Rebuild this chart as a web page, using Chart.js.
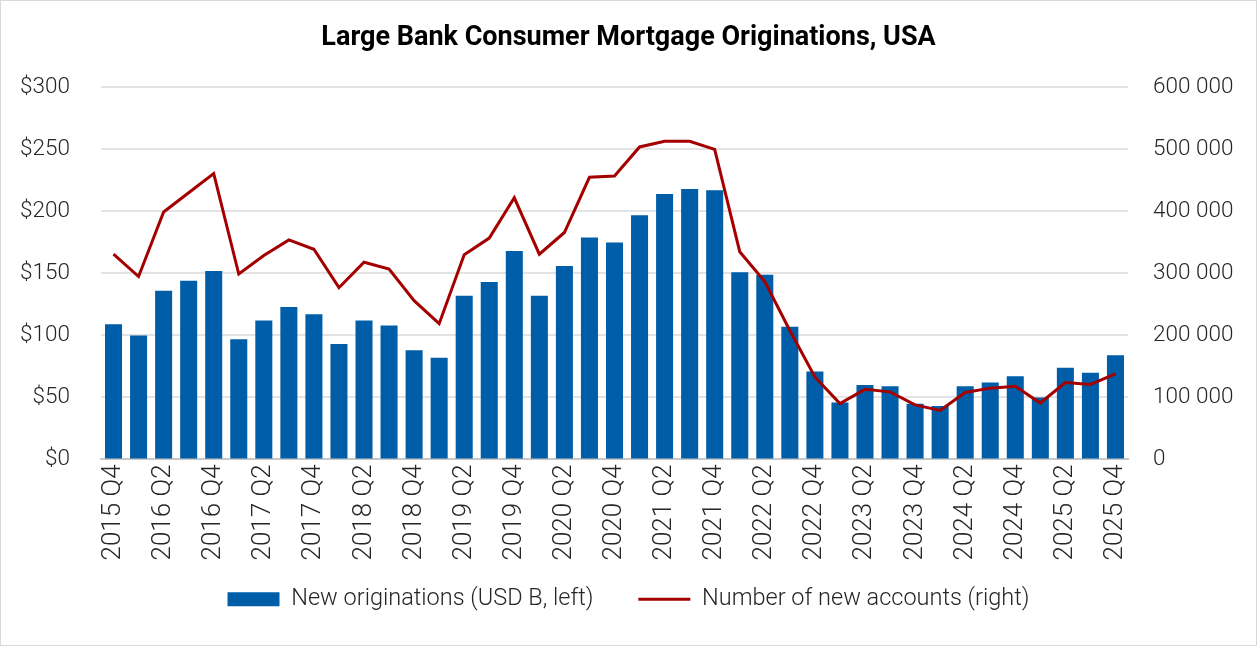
<!DOCTYPE html>
<html>
<head>
<meta charset="utf-8">
<script src="https://cdn.jsdelivr.net/npm/chart.js@4/dist/chart.umd.min.js"></script>
<style>
  html, body { margin: 0; padding: 0; background: #fff; }
  #wrap { position: relative; width: 1257px; height: 646px; }
  #frame { position: absolute; left: 0; top: 0; width: 1257px; height: 646px; box-sizing: border-box; border: 1px solid #d9d9d9; pointer-events: none; }
</style>
</head>
<body>
<div id="wrap">
  <canvas id="chart" width="1257" height="646"></canvas>
  <div id="frame"></div>
</div>
<script>
// quarters 2015 Q4 .. 2025 Q4
const quarters = [
  '2015 Q4',
  '2016 Q1', '2016 Q2', '2016 Q3', '2016 Q4',
  '2017 Q1', '2017 Q2', '2017 Q3', '2017 Q4',
  '2018 Q1', '2018 Q2', '2018 Q3', '2018 Q4',
  '2019 Q1', '2019 Q2', '2019 Q3', '2019 Q4',
  '2020 Q1', '2020 Q2', '2020 Q3', '2020 Q4',
  '2021 Q1', '2021 Q2', '2021 Q3', '2021 Q4',
  '2022 Q1', '2022 Q2', '2022 Q3', '2022 Q4',
  '2023 Q1', '2023 Q2', '2023 Q3', '2023 Q4',
  '2024 Q1', '2024 Q2', '2024 Q3', '2024 Q4',
  '2025 Q1', '2025 Q2', '2025 Q3', '2025 Q4'
];

// new originations, USD billions (left axis)
const originations = [
  109,
  100, 136, 144, 152,
  97, 112, 123, 117,
  93, 112, 108, 88,
  82, 132, 143, 168,
  132, 156, 179, 175,
  197, 214, 218, 217,
  151, 149, 107, 71,
  46, 60, 59, 45,
  43, 59, 62, 67,
  50, 74, 70, 84
];

// number of new accounts (right axis)
const newAccounts = [
  331000,
  295000, 399000, 430000, 461000,
  299000, 329000, 354000, 339000,
  277000, 318000, 307000, 256000,
  219000, 330000, 357000, 422000,
  331000, 366000, 455000, 457000,
  504000, 513000, 513000, 500000,
  335000, 287000, 208000, 133000,
  90000, 113000, 109000, 88000,
  79000, 108000, 115000, 118000,
  91000, 124000, 121000, 138000
];

const leftTicks = [0, 50, 100, 150, 200, 250, 300];
const rightTicks = [0, 100000, 200000, 300000, 400000, 500000, 600000];

const BLUE = '#005ea8';
const RED = '#a50000';
const GRID = '#e3e3e3';
const TEXT = '#262626';
const FONT = "Roboto, 'Liberation Sans', sans-serif";

function spaced(n) {
  return String(n).replace(/\B(?=(\d{3})+(?!\d))/g, ' ');
}

const ctx = document.getElementById('chart').getContext('2d');

new Chart(ctx, {
  data: {
    labels: quarters,
    datasets: [
      {
        type: 'line',
        label: 'Number of new accounts (right)',
        data: newAccounts,
        yAxisID: 'y2',
        borderColor: RED,
        backgroundColor: RED,
        borderWidth: 3,
        pointRadius: 0,
        tension: 0
      },
      {
        type: 'bar',
        label: 'New originations (USD B, left)',
        data: originations,
        yAxisID: 'y',
        backgroundColor: BLUE,
        borderWidth: 0,
        categoryPercentage: 1,
        barPercentage: 0.68
      }
    ]
  },
  options: {
    responsive: false,
    animation: false,
    layout: { padding: { top: 22, left: 0, right: 0, bottom: 25 } },
    plugins: {
      tooltip: { enabled: false },
      title: {
        display: true,
        text: 'Large Bank Consumer Mortgage Originations, USA',
        color: '#000',
        font: { family: FONT, size: 27, weight: 'bold' },
        padding: { top: 0, bottom: 33 }
      },
      legend: {
        position: 'bottom',
        reverse: true,
        labels: {
          color: TEXT,
          font: { family: FONT, size: 23.5, weight: 300 },
          usePointStyle: true,
          pointStyleWidth: 52,
          boxHeight: 14,
          padding: 22,
          generateLabels(chart) {
            const items = Chart.defaults.plugins.legend.labels.generateLabels(chart);
            items.forEach(it => {
              if (it.datasetIndex === 0) {
                it.pointStyle = 'line';
                it.lineWidth = 3;
                it.strokeStyle = RED;
              } else {
                it.pointStyle = 'rect';
                it.lineWidth = 0;
                it.text += '    ';
              }
            });
            return items;
          }
        }
      }
    },
    scales: {
      x: {
        grid: { display: false, drawTicks: false },
        border: { display: true, color: '#c8c8c8', width: 2 },
        ticks: {
          color: TEXT,
          font: { family: FONT, size: 26, weight: 300 },
          autoSkip: false,
          minRotation: 90,
          maxRotation: 90,
          padding: 5,
          callback(v, i) { return i % 2 === 0 ? quarters[i] : ''; }
        }
      },
      y: {
        position: 'left',
        min: 0,
        max: 300,
        afterBuildTicks(s) { s.ticks = leftTicks.map(v => ({ value: v })); },
        afterFit(s) { s.width = 101; },
        grid: { color: GRID, lineWidth: 2, drawTicks: false },
        border: { display: false },
        ticks: {
          color: TEXT,
          font: { family: FONT, size: 22.5, weight: 300 },
          padding: 31,
          callback(v) { return '$' + v; }
        }
      },
      y2: {
        position: 'right',
        min: 0,
        max: 600000,
        afterBuildTicks(s) { s.ticks = rightTicks.map(v => ({ value: v })); },
        afterFit(s) { s.width = 129; },
        grid: { display: false, drawTicks: false },
        border: { display: false },
        ticks: {
          color: TEXT,
          font: { family: FONT, size: 22.5, weight: 300 },
          padding: 25,
          callback(v) { return spaced(v); }
        }
      }
    }
  }
});
</script>
</body>
</html>
